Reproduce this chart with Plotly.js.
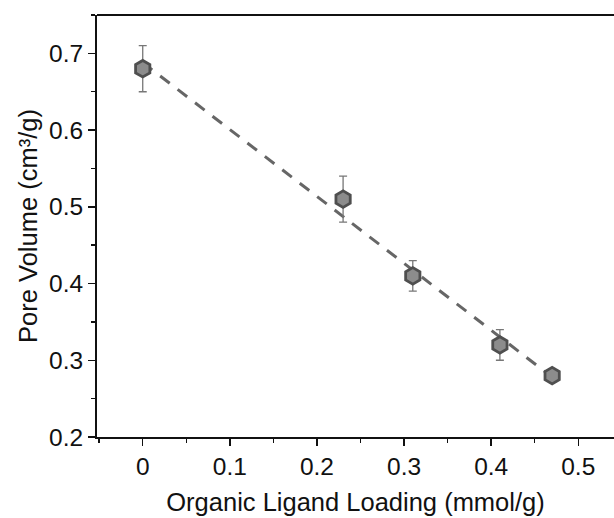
<!DOCTYPE html>
<html>
<head>
<meta charset="utf-8">
<script src="https://cdn.plot.ly/plotly-3.0.1.min.js"></script>
<style>html,body{margin:0;padding:0;overflow:hidden;background:#fff;}#chart{width:614px;height:518px;}</style>
</head>
<body>
<div id="chart"></div>
<script>
const loading = [0, 0.23, 0.31, 0.41, 0.47];
const poreVolume = [0.68, 0.51, 0.41, 0.32, 0.28];
const poreError = [0.03, 0.03, 0.02, 0.02, 0.005];
const fitX = [0, 0.47];
const fitY = [0.688, 0.278];
const xTickVals = [0, 0.1, 0.2, 0.3, 0.4, 0.5];
const xTickText = ['0', '0.1', '0.2', '0.3', '0.4', '0.5'];
const yTickVals = [0.2, 0.3, 0.4, 0.5, 0.6, 0.7];
const yTickText = ['0.2', '0.3', '0.4', '0.5', '0.6', '0.7'];

const fontFamily = '"Liberation Sans", Arial, sans-serif';

const traces = [
  {
    x: fitX, y: fitY, type: 'scatter', mode: 'lines',
    line: {color: '#666666', width: 3, dash: '12px,10px'},
    hoverinfo: 'skip', showlegend: false
  },
  {
    x: loading, y: poreVolume, type: 'scatter', mode: 'markers',
    error_y: {type: 'data', array: poreError, visible: true, color: '#777777', thickness: 1.3, width: 4},
    marker: {symbol: 'hexagon', size: 16.5, color: '#8c8c8c', line: {color: '#4f4f4f', width: 2.8}},
    showlegend: false
  }
];

const axisCommon = {
  showline: true, linecolor: '#111', linewidth: 2, mirror: false,
  ticks: 'outside', ticklen: 7, tickwidth: 1.5, tickcolor: '#111',
  showgrid: false, zeroline: false,
  tickfont: {family: fontFamily, size: 24.5, color: '#111'}
};

const layout = {
  width: 614, height: 518,
  margin: {l: 97, r: 0, t: 15, b: 81},
  paper_bgcolor: '#fff', plot_bgcolor: '#fff',
  showlegend: false,
  shapes: [{type: 'line', xref: 'paper', yref: 'paper', x0: 0, x1: 1.05, y0: 1, y1: 1, line: {color: '#111', width: 2}}],
  xaxis: Object.assign({}, axisCommon, {
    range: [-0.0525, 0.541],
    tickmode: 'array', tickvals: xTickVals, ticktext: xTickText,
    minor: {dtick: 0.05, tick0: 0, ticks: 'outside', ticklen: 4, tickwidth: 1.5, tickcolor: '#111'},
    title: {text: 'Organic Ligand Loading (mmol/g)', font: {family: fontFamily, size: 25.5, color: '#111'}, standoff: 14}
  }),
  yaxis: Object.assign({}, axisCommon, {
    range: [0.2, 0.75],
    tickmode: 'array', tickvals: yTickVals, ticktext: yTickText,
    minor: {dtick: 0.05, tick0: 0.2, ticks: 'outside', ticklen: 4, tickwidth: 1.5, tickcolor: '#111'},
    title: {text: 'Pore Volume (cm³/g)', font: {family: fontFamily, size: 25.5, color: '#111'}, standoff: 4}
  })
};

Plotly.newPlot('chart', traces, layout, {displayModeBar: false, staticPlot: true});
</script>
</body>
</html>
